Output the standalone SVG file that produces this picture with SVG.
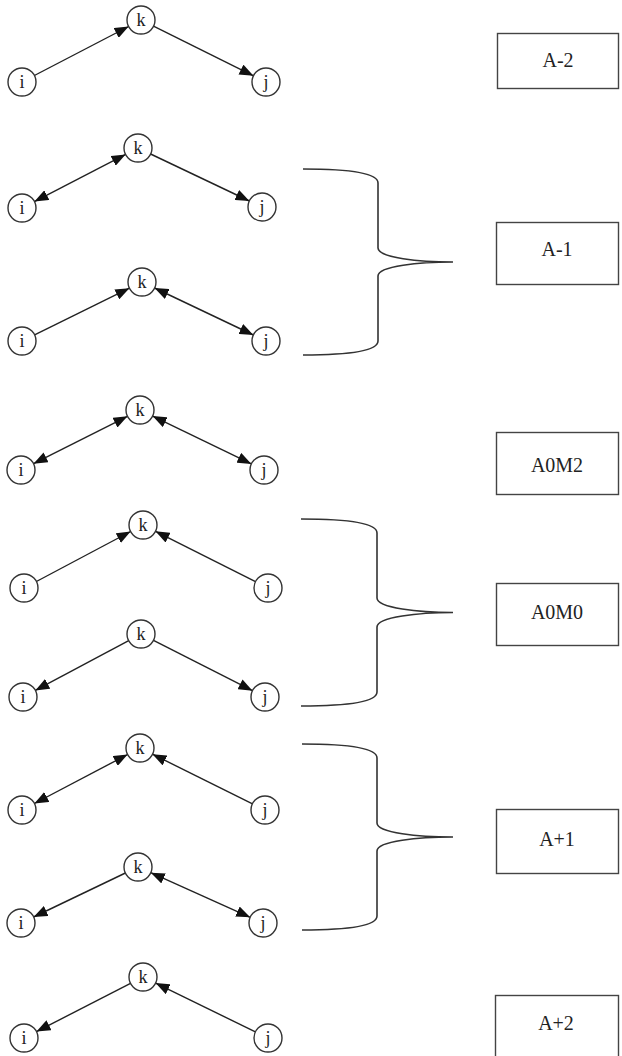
<svg xmlns="http://www.w3.org/2000/svg" width="622" height="1056" viewBox="0 0 622 1056">
  <style>
    .node circle { fill: #fff; stroke: #333; stroke-width: 1.4; }
    .node text { font-family: "Liberation Serif", "Times New Roman", serif; font-size: 18px; fill: #222; text-anchor: middle; }
    .edge { stroke: #222; stroke-width: 1.4; fill: none; }
    .one { marker-end: url(#head); }
    .two { marker-start: url(#head); marker-end: url(#head); }
    .brace { stroke: #333; stroke-width: 1.6; fill: none; }
    .box rect { fill: #fff; stroke: #444; stroke-width: 1.4; }
    .box text { font-family: "Liberation Serif", "Times New Roman", serif; font-size: 20px; fill: #222; text-anchor: middle; }
  </style>
  <defs>
    <marker id="head" markerUnits="userSpaceOnUse" markerWidth="14" markerHeight="11" refX="14" refY="5.5" orient="auto-start-reverse">
      <path d="M0,0 L14,5.5 L0,11 z" fill="#111"/>
    </marker>
  </defs>
  <rect width="622" height="1056" fill="#fff"/>

  <!-- edges of the nine triads -->
  <g id="connectors">
    <!-- triad 1: i->k, k->j -->
    <line class="edge one" x1="34.4" y1="75.5" x2="128.6" y2="26.5"/>
    <line class="edge one" x1="153.5" y1="26.2" x2="253.5" y2="75.8"/>
    <!-- triad 2: i<->k, k->j -->
    <line class="edge two" x1="34.4" y1="201.6" x2="125.6" y2="154.4"/>
    <line class="edge one" x1="150.6" y1="154.0" x2="249.4" y2="201.0"/>
    <!-- triad 3: i->k, k<->j -->
    <line class="edge one" x1="34.6" y1="334.8" x2="129.4" y2="288.2"/>
    <line class="edge two" x1="154.6" y1="288.0" x2="253.4" y2="335.0"/>
    <!-- triad 4: i<->k, k<->j -->
    <line class="edge two" x1="33.5" y1="463.7" x2="127.5" y2="416.3"/>
    <line class="edge two" x1="152.6" y1="416.1" x2="251.4" y2="463.9"/>
    <!-- triad 5: i->k, j->k -->
    <line class="edge one" x1="36.4" y1="581.5" x2="130.6" y2="531.5"/>
    <line class="edge one" x1="255.5" y1="581.7" x2="155.5" y2="531.3"/>
    <!-- triad 6: k->i, k->j -->
    <line class="edge one" x1="128.7" y1="640.6" x2="35.3" y2="690.4"/>
    <line class="edge one" x1="153.5" y1="640.3" x2="252.5" y2="690.7"/>
    <!-- triad 7: i<->k, j->k -->
    <line class="edge two" x1="34.4" y1="803.5" x2="127.6" y2="754.5"/>
    <line class="edge one" x1="252.5" y1="803.8" x2="152.5" y2="754.2"/>
    <!-- triad 8: k->i, k<->j -->
    <line class="edge one" x1="125.4" y1="873.0" x2="33.6" y2="917.0"/>
    <line class="edge two" x1="150.8" y1="872.7" x2="250.2" y2="917.3"/>
    <!-- triad 9: k->i, j->k -->
    <line class="edge one" x1="130.5" y1="983.4" x2="36.5" y2="1031.6"/>
    <line class="edge one" x1="255.4" y1="1031.9" x2="155.6" y2="983.1"/>

    <!-- braces grouping pairs of triads -->
    <path class="brace" d="M303,169 C345,169 378,172 378,183 L378,248 C378,258 420,262 453,262 C420,262 378,266 378,276 L378,341 C378,352 345,355 303,355"/>
    <path class="brace" d="M301,519 C344,519 377,522 377,533 L377,598 C377,608 419,612.5 453,612.5 C419,612.5 377,617 377,627 L377,692 C377,703 344,706 301,706"/>
    <path class="brace" d="M302,744 C344,744 377,747 377,758 L377,823 C377,833 419,837 453,837 C419,837 377,841 377,851 L377,916 C377,927 344,930 302,930"/>
  </g>

  <!-- triad nodes -->
  <g id="t1-i" class="node"><circle cx="22" cy="82" r="14"/><text x="22" y="88">i</text></g>
  <g id="t1-k" class="node"><circle cx="141" cy="20" r="14"/><text x="141" y="26">k</text></g>
  <g id="t1-j" class="node"><circle cx="266" cy="82" r="14"/><text x="266" y="88">j</text></g>

  <g id="t2-i" class="node"><circle cx="22" cy="208" r="14"/><text x="22" y="214">i</text></g>
  <g id="t2-k" class="node"><circle cx="138" cy="148" r="14"/><text x="138" y="154">k</text></g>
  <g id="t2-j" class="node"><circle cx="262" cy="207" r="14"/><text x="262" y="213">j</text></g>

  <g id="t3-i" class="node"><circle cx="22" cy="341" r="14"/><text x="22" y="347">i</text></g>
  <g id="t3-k" class="node"><circle cx="142" cy="282" r="14"/><text x="142" y="288">k</text></g>
  <g id="t3-j" class="node"><circle cx="266" cy="341" r="14"/><text x="266" y="347">j</text></g>

  <g id="t4-i" class="node"><circle cx="21" cy="470" r="14"/><text x="21" y="476">i</text></g>
  <g id="t4-k" class="node"><circle cx="140" cy="410" r="14"/><text x="140" y="416">k</text></g>
  <g id="t4-j" class="node"><circle cx="264" cy="470" r="14"/><text x="264" y="476">j</text></g>

  <g id="t5-i" class="node"><circle cx="24" cy="588" r="14"/><text x="24" y="594">i</text></g>
  <g id="t5-k" class="node"><circle cx="143" cy="525" r="14"/><text x="143" y="531">k</text></g>
  <g id="t5-j" class="node"><circle cx="268" cy="588" r="14"/><text x="268" y="594">j</text></g>

  <g id="t6-i" class="node"><circle cx="23" cy="697" r="14"/><text x="23" y="703">i</text></g>
  <g id="t6-k" class="node"><circle cx="141" cy="634" r="14"/><text x="141" y="640">k</text></g>
  <g id="t6-j" class="node"><circle cx="265" cy="697" r="14"/><text x="265" y="703">j</text></g>

  <g id="t7-i" class="node"><circle cx="22" cy="810" r="14"/><text x="22" y="816">i</text></g>
  <g id="t7-k" class="node"><circle cx="140" cy="748" r="14"/><text x="140" y="754">k</text></g>
  <g id="t7-j" class="node"><circle cx="265" cy="810" r="14"/><text x="265" y="816">j</text></g>

  <g id="t8-i" class="node"><circle cx="21" cy="923" r="14"/><text x="21" y="929">i</text></g>
  <g id="t8-k" class="node"><circle cx="138" cy="867" r="14"/><text x="138" y="873">k</text></g>
  <g id="t8-j" class="node"><circle cx="263" cy="923" r="14"/><text x="263" y="929">j</text></g>

  <g id="t9-i" class="node"><circle cx="24" cy="1038" r="14"/><text x="24" y="1044">i</text></g>
  <g id="t9-k" class="node"><circle cx="143" cy="977" r="14"/><text x="143" y="983">k</text></g>
  <g id="t9-j" class="node"><circle cx="268" cy="1038" r="14"/><text x="268" y="1044">j</text></g>

  <!-- class labels -->
  <g id="box-a-2" class="box"><rect x="497.5" y="33.5" width="121" height="55"/><text x="558" y="67">A-2</text></g>
  <g id="box-a-1" class="box"><rect x="496.5" y="222.5" width="122" height="62"/><text x="557" y="256">A-1</text></g>
  <g id="box-a0m2" class="box"><rect x="496.5" y="432.5" width="122" height="62"/><text x="557" y="472">A0M2</text></g>
  <g id="box-a0m0" class="box"><rect x="496.5" y="583.5" width="122" height="62"/><text x="557" y="619">A0M0</text></g>
  <g id="box-a+1" class="box"><rect x="496.5" y="809.5" width="122" height="64"/><text x="557" y="846">A+1</text></g>
  <g id="box-a+2" class="box"><rect x="495.5" y="995.5" width="123" height="64"/><text x="556" y="1030">A+2</text></g>
</svg>
